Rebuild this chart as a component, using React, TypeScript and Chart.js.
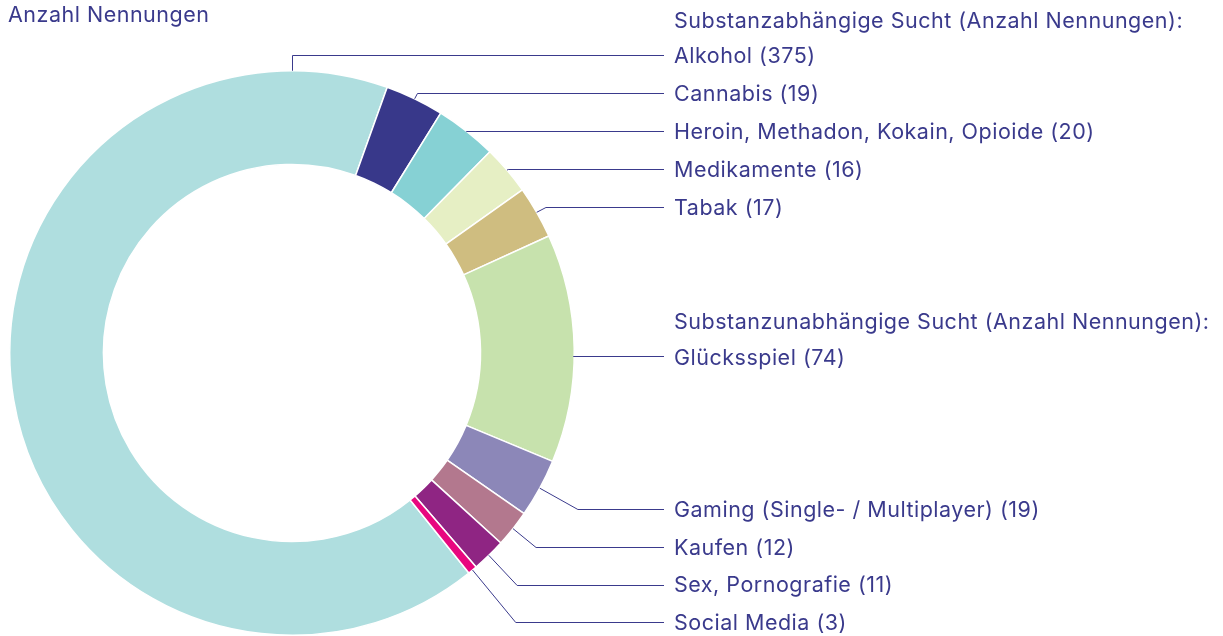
import React, { useEffect, useRef } from "react";
import { Chart, registerables } from "chart.js";

Chart.register(...registerables);

const categories = [
  "Alkohol",
  "Cannabis",
  "Heroin, Methadon, Kokain, Opioide",
  "Medikamente",
  "Tabak",
  "Glücksspiel",
  "Gaming (Single- / Multiplayer)",
  "Kaufen",
  "Sex, Pornografie",
  "Social Media",
];
const counts = [375, 19, 20, 16, 17, 74, 19, 12, 11, 3];
const colors = [
  "#afdedf",
  "#38388a",
  "#86d1d4",
  "#e6efc4",
  "#cfbd80",
  "#c7e2ad",
  "#8c87b8",
  "#b3788e",
  "#8f2583",
  "#e8077f",
];
const chartTitle = "Anzahl Nennungen";
const groupHeaders = [
  "Substanzabhängige Sucht (Anzahl Nennungen):",
  "Substanzunabhängige Sucht (Anzahl Nennungen):",
];

// layout (pixel rows of the right-hand label column: line y; text sits on baseline = row + offset)
const headerRows = [20.5, 321];
const labelRows = [55, 93, 131, 169, 207, 357, 509, 547, 584.5, 622];

const TEXT_COLOR = "#3a3a8c";
const FONT = "21.5px Inter, 'Noto Sans', sans-serif";
const LETTER_SPACING = "0.5px";
const BASELINE_OFFSET = 7.5;
const LABEL_X = 674;
const LINE_END_X = 664;

const leaderPlugin = {
  id: "leaders",
  afterDraw(chart: any) {
    const ctx = chart.ctx;
    const meta = chart.getDatasetMeta(0);
    ctx.save();
    ctx.font = FONT;
    (ctx as any).letterSpacing = LETTER_SPACING;
    ctx.fillStyle = TEXT_COLOR;
    ctx.textBaseline = "alphabetic";
    ctx.textAlign = "left";
    ctx.fillText(chartTitle, 8, 22);
    groupHeaders.forEach((h, i) => ctx.fillText(h, LABEL_X, headerRows[i] + BASELINE_OFFSET));

    ctx.strokeStyle = TEXT_COLOR;
    ctx.lineWidth = 1;
    meta.data.forEach((arc: any, i: number) => {
      const { x, y, startAngle, endAngle, outerRadius } = arc.getProps(
        ["x", "y", "startAngle", "endAngle", "outerRadius"],
        true
      );
      const ly = labelRows[i];
      const lyPix = Math.round(ly) + 0.5;
      ctx.beginPath();
      if (i === 0) {
        const px = x;
        const py = y - outerRadius;
        ctx.moveTo(Math.round(px) + 0.5, py);
        ctx.lineTo(Math.round(px) + 0.5, lyPix);
        ctx.lineTo(LINE_END_X, lyPix);
      } else {
        const a = (startAngle + endAngle) / 2;
        const px = x + outerRadius * Math.cos(a);
        const py = y + outerRadius * Math.sin(a);
        const s = Math.sin(a);
        if (Math.abs(s) < 0.15) {
          ctx.moveTo(px - 1, lyPix - 1);
          ctx.lineTo(LINE_END_X, lyPix - 1);
        } else {
          const t = (ly - py) / s;
          const ex = px + t * Math.cos(a);
          ctx.moveTo(px, py);
          ctx.lineTo(ex, lyPix);
          ctx.lineTo(LINE_END_X, lyPix);
        }
      }
      ctx.stroke();
      ctx.fillText(`${categories[i]} (${counts[i]})`, LABEL_X, ly + BASELINE_OFFSET);
    });
    ctx.restore();
  },
};

export default function App() {
  const ref = useRef<HTMLCanvasElement>(null);
  useEffect(() => {
    const chart = new Chart(ref.current as HTMLCanvasElement, {
      type: "doughnut",
      data: {
        labels: categories,
        datasets: [
          {
            data: counts,
            backgroundColor: colors,
            borderColor: "#ffffff",
            borderWidth: 1.5,
          },
        ],
      },
      options: {
        responsive: false,
        animation: false,
        events: [],
        rotation: 141.2,
        cutout: "66.8%",
        layout: { padding: { left: 9, right: 648, top: 70, bottom: 0 } },
        plugins: {
          legend: { display: false },
          tooltip: { enabled: false },
          title: { display: false },
        },
      },
      plugins: [leaderPlugin],
    });
    return () => chart.destroy();
  }, []);
  return (
    <div style={{ position: "fixed", left: 0, top: 0, width: 1223, height: 636, background: "#fff" }}>
      <canvas ref={ref} width={1223} height={636} style={{ display: "block" }} />
    </div>
  );
}
